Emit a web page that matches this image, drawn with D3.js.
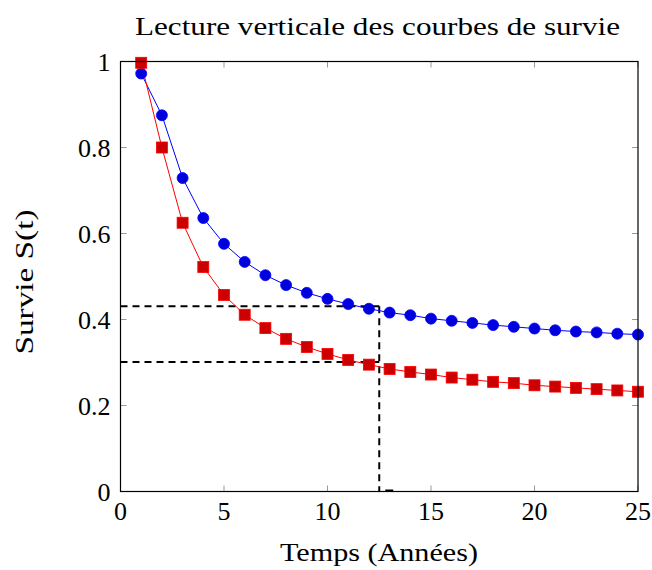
<!DOCTYPE html>
<html><head><meta charset="utf-8">
<script src="https://cdn.jsdelivr.net/npm/d3@7"></script>
<style>body{margin:0;background:#fff}svg text{font-family:"Liberation Serif","DejaVu Serif",serif;fill:#000}</style>
</head><body><svg id="c" width="652" height="570"></svg>
<script>
const years = d3.range(1, 26);
const seriesBlue = [0.972,0.875,0.729,0.636,0.576,0.534,0.503,0.480,0.462,0.448,0.436,0.425,0.416,0.410,0.402,0.397,0.392,0.387,0.383,0.379,0.375,0.372,0.370,0.367,0.365];
const seriesRed = [0.997,0.800,0.625,0.522,0.457,0.411,0.380,0.355,0.336,0.320,0.306,0.295,0.285,0.278,0.272,0.265,0.260,0.255,0.252,0.247,0.244,0.241,0.238,0.235,0.232];
const xTicks = [0,5,10,15,20,25];
const yTicks = [0,0.2,0.4,0.6,0.8,1];
const readT = 12.5;
const readS = [0.431, 0.301];
const title = "Lecture verticale des courbes de survie";
const xLabel = "Temps (Années)";
const yLabel = "Survie S(t)";

const svg = d3.select("#c");
const L=120.5, R=638, T=61.5, B=491.5;
const x = d3.scaleLinear().domain([0,25]).range([L,R]);
const y = d3.scaleLinear().domain([0,1]).range([B,T]);

// ticks inward, mirrored
const tl=6, tc="#999";
const g = svg.append("g");
xTicks.forEach(v=>{
  g.append("line").attr("x1",x(v)).attr("x2",x(v)).attr("y1",B).attr("y2",B-tl).attr("stroke",tc);
  g.append("line").attr("x1",x(v)).attr("x2",x(v)).attr("y1",T).attr("y2",T+tl).attr("stroke",tc);
  g.append("text").attr("x",x(v)).attr("y",B+28.5).attr("text-anchor","middle").attr("font-size",26).text(v);
});
yTicks.forEach(v=>{
  g.append("line").attr("y1",y(v)).attr("y2",y(v)).attr("x1",L).attr("x2",L+tl).attr("stroke",tc);
  g.append("line").attr("y1",y(v)).attr("y2",y(v)).attr("x1",R).attr("x2",R-tl).attr("stroke",tc);
  g.append("text").attr("x",L-10).attr("y",y(v)+9).attr("text-anchor","end").attr("font-size",26).text(v);
});

// dashed reading lines
readS.forEach(s=>{
  svg.append("line").attr("x1",x(0)).attr("x2",x(readT)).attr("y1",y(s)).attr("y2",y(s))
    .attr("stroke","#000").attr("stroke-width",2).attr("stroke-dasharray","7,5");
});
svg.append("line").attr("x1",x(readT)).attr("x2",x(readT)).attr("y1",y(readS[0])).attr("y2",y(0))
  .attr("stroke","#000").attr("stroke-width",2).attr("stroke-dasharray","7,5");
svg.append("line").attr("x1",x(readT)+6).attr("x2",x(readT)+14).attr("y1",y(0)-1).attr("y2",y(0)-1)
  .attr("stroke","#000").attr("stroke-width",2);

const line = d3.line().x((d,i)=>x(years[i])).y(d=>y(d));
svg.append("path").datum(seriesBlue).attr("d",line).attr("fill","none").attr("stroke","#0000ff").attr("stroke-width",1);
svg.append("path").datum(seriesRed).attr("d",line).attr("fill","none").attr("stroke","#ff0000").attr("stroke-width",1);

svg.selectAll(".b").data(seriesBlue).join("circle").attr("cx",(d,i)=>x(years[i])).attr("cy",d=>y(d)).attr("r",5.5)
  .attr("fill","#0000dd").attr("stroke","#0000ff").attr("stroke-width",0.8);
svg.selectAll(".r").data(seriesRed).join("rect").attr("x",(d,i)=>x(years[i])-5.5).attr("y",d=>y(d)-5.5).attr("width",11).attr("height",11)
  .attr("fill","#cc0000").attr("stroke","#ff0000").attr("stroke-width",0.8);

// frame
svg.append("rect").attr("x",L).attr("y",T).attr("width",R-L).attr("height",B-T).attr("fill","none").attr("stroke","#000").attr("stroke-width",1.2);

svg.append("text").attr("x",377.5).attr("y",35).attr("text-anchor","middle").attr("font-size",25)
  .attr("textLength",485).attr("lengthAdjust","spacingAndGlyphs").text(title);
svg.append("text").attr("x",379).attr("y",561).attr("text-anchor","middle").attr("font-size",25)
  .attr("textLength",198).attr("lengthAdjust","spacingAndGlyphs").text(xLabel);
svg.append("text").attr("transform",`translate(33,282) rotate(-90)`).attr("text-anchor","middle").attr("font-size",25)
  .attr("textLength",145).attr("lengthAdjust","spacingAndGlyphs").text(yLabel);
</script></body></html>
